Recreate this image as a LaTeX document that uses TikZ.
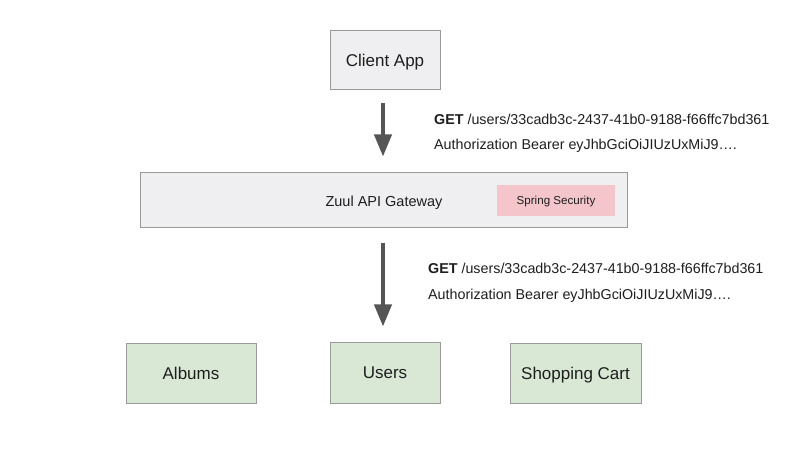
\documentclass[tikz,border=0pt]{standalone}
\usepackage{fontspec}
\setmainfont{Liberation Sans}
\usetikzlibrary{arrows.meta}
\definecolor{boxgray}{HTML}{EFEEF0}
\definecolor{edgegray}{HTML}{9A9A9A}
\definecolor{boxgreen}{HTML}{D9E8D4}
\definecolor{boxpink}{HTML}{F4C6CC}
\definecolor{arrowgray}{HTML}{555555}
\definecolor{txt}{HTML}{1E1E1E}
\tikzset{
  box/.style={draw=edgegray, line width=1pt, inner sep=0pt, text=txt, font=\fontsize{17}{20}\selectfont, text height=12.2pt, text depth=0pt},
  graybox/.style={box, fill=boxgray},
  greenbox/.style={box, fill=boxgreen},
  pinkbox/.style={inner sep=0pt, fill=boxpink, text=txt, font=\fontsize{11.6}{14}\selectfont, text height=8.3pt, text depth=0pt},
  bigarrow/.style={draw=arrowgray, line width=4pt, -{Triangle[width=17pt,length=22pt]}},
  note/.style={anchor=west, align=left, inner sep=0pt, text=txt, font=\fontsize{14.3}{25.5}\selectfont}
}
\begin{document}
\begin{tikzpicture}[x=1pt,y=-1pt]
\useasboundingbox (0,0) rectangle (809,457);
\node[graybox, minimum width=110pt, minimum height=59pt] (client) at (385,60.5) {Client App};
\node[graybox, minimum width=487pt, minimum height=55pt] (gw) at (383.5,200.5) {};
\node[text=txt, font=\fontsize{14.5}{17}\selectfont, inner sep=0pt, text height=10.4pt, text depth=0pt] (gwlabel) at (384,201.5) {Zuul API Gateway};
\node[pinkbox, minimum width=118pt, minimum height=31pt] (spring) at (556,200.5) {Spring Security};
\node[greenbox, minimum width=130pt, minimum height=60pt] (albums) at (191,373) {Albums};
\node[greenbox, minimum width=110pt, minimum height=61pt] (users) at (385,372.5) {Users};
\node[greenbox, minimum width=131pt, minimum height=60pt] (cart) at (575.5,373) {Shopping Cart};
\draw[bigarrow, shorten <=13pt, shorten >=16pt] ([xshift=-2pt]client.south) -- ([xshift=-2pt]client.south |- gw.north);
\draw[bigarrow, shorten <=15pt, shorten >=15pt] ([xshift=-2pt]users.north |- gw.south) -- ([xshift=-2pt]users.north);
\node[note] (req1) at (434,133.5) {\textbf{GET} /users/33cadb3c-2437-41b0-9188-f66ffc7bd361\\Authorization Bearer eyJhbGciOiJIUzUxMiJ9\dots.};
\node[note] (req2) at (428,283) {\textbf{GET} /users/33cadb3c-2437-41b0-9188-f66ffc7bd361\\Authorization Bearer eyJhbGciOiJIUzUxMiJ9\dots.};
\end{tikzpicture}
\end{document}
